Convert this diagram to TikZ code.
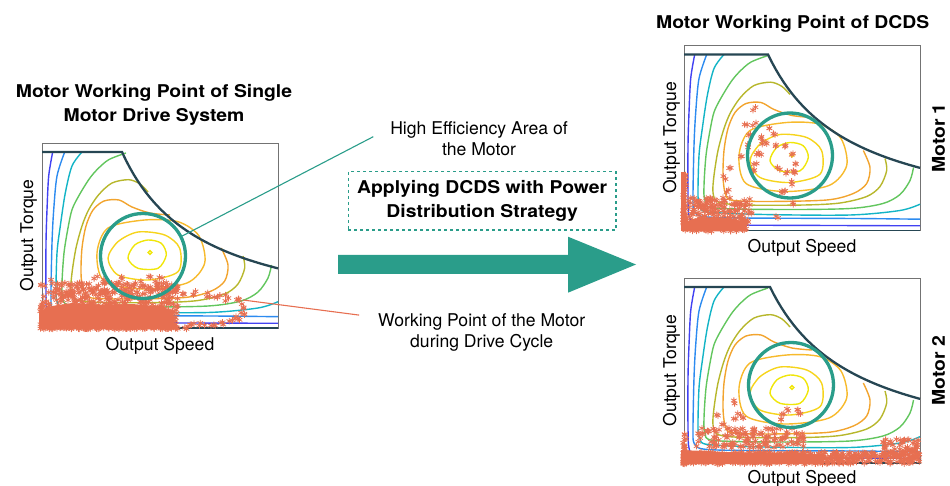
\documentclass[tikz,border=0pt]{standalone}
\usepackage{fontspec}
\setmainfont{TeX Gyre Heros}[BoldFeatures={FakeStretch=1.1}]
\usetikzlibrary{positioning,plotmarks}

\definecolor{dcteal}{HTML}{2A9D8A}
\definecolor{dcnavy}{HTML}{264653}
\definecolor{dccoral}{HTML}{E76F51}
% efficiency levels, low to high
\definecolor{ev1}{HTML}{4242F2}
\definecolor{ev2}{HTML}{2C8BF0}
\definecolor{ev3}{HTML}{13B4C6}
\definecolor{ev4}{HTML}{62C65E}
\definecolor{ev5}{HTML}{B7B72C}
\definecolor{ev6}{HTML}{F2A42E}
\definecolor{ev7}{HTML}{F7BA2C}
\definecolor{ev9}{HTML}{F6D41C}
\definecolor{ev10}{HTML}{F0E60A}

% efficiency map of the motor, #1 = base speed (corner of the torque limit)
\newcommand{\effmap}[1]{%
\draw[ctr,ev1] plot[smooth] coordinates {(10.7,9) (6.7,33) (5,67) (4,100) (4,150) (5,170) (11,178) (40,179.5) (150,180) (236,180.3)};
\draw[ctr,ev2] plot[smooth] coordinates {(22.7,9) (15,33) (11.7,67) (10,100) (9,150) (10,165) (19,171) (60,172.5) (170,173) (236,173.7)};
\draw[ctr,ev3] plot[smooth] coordinates {(40,9) (30,23) (23.3,50) (18.3,83) (15,110) (14,150) (16,161) (24,166.5) (80,169) (166,169.5) (216,165) (236,158.7)};
\draw[ctr,ev4] plot[smooth] coordinates {(84,10) (66.7,16.7) (55,26.7) (46.7,36.7) (36.7,53) (30,66.7) (26,85) (22,110) (20,140) (21,155) (30,162.5) (100,164) (166,163) (199,158) (216,149) (226,135) (229.5,122)};
\draw[ctr,ev5] plot[smooth] coordinates {(106,49) (98,41) (86.7,36.7) (70,40) (56.7,51.7) (46.7,66.7) (40,83) (34,105) (30,130) (29,147) (34,156.5) (60,159.5) (120,159.5) (156,157.5) (182.7,151) (196,141) (202.7,125) (201,113)};
\draw[ctr,ev6] plot[smooth] coordinates {(128,72) (108,70) (90,64) (77,57) (62,58) (51,67) (44,83) (40,105) (39,130) (41,147) (47,154.5) (80,156) (142.7,154.5) (169.3,148) (182.7,138) (186,122) (179.3,105)};
\draw[ctr,ev7] plot[smooth cycle] coordinates {(102.7,77) (136,78.7) (157,93) (162.7,120) (145,140) (100,146) (62,138) (55,110) (66,85)};
\draw[ctr,ev9] plot[smooth cycle] coordinates {(96,89) (122.7,92) (137.7,105.3) (136,128.7) (106,137) (76,132) (66,115.3) (76,98.7)};
\draw[ctr,ev10] plot[smooth cycle] coordinates {(106,97) (119.3,100.3) (124.3,112) (116,125.3) (96,125.3) (86,115.3) (92.7,102)};
\draw[ctr,ev10] (108,109.5) circle[radius=1.8];
\draw[tlim] (0,9) -- (#1,9) -- plot[domain=#1:236, samples=40] (\x,{185-176*#1/\x});
\draw[dcnavy, line width=1.3pt] (0,185) -- (236,185);
}

\begin{document}
\begin{tikzpicture}[
x=1pt, y=-1pt,
every node/.style={inner sep=0pt, outer sep=0pt},
panel/.style={draw=black!55, line width=0.8pt, minimum width=236pt, minimum height=185pt},
ctr/.style={line width=1.4pt},
tlim/.style={dcnavy, line width=2.3pt},
ring/.style={circle, draw=dcteal, line width=3.3pt, minimum size=85pt},
wpt/.style={dccoral, line width=0.8pt, mark size=3.2pt},
lbl/.style={font=\fontsize{17.6}{21}\selectfont, align=center},
hd/.style={font=\fontsize{17.6}{24.4}\selectfont\bfseries, align=center},
lead/.style={line width=1.1pt}]

\useasboundingbox (0,0) rectangle (950,486);
\pgfmathsetseed{2024}

% single motor drive system
\node[panel] (p1) at (160,235.5) {};
\begin{scope}[shift={(p1.north west)}]
\effmap{80}
\fill[dccoral] (-3,186) -- (-3,168) -- (10,163) -- (30,160) -- (60,162) -- (90,161) -- (115,163) -- (130,168) -- (134,186) -- cycle;
\draw[wpt] plot[only marks, mark=asterisk, samples=650, domain=0:1] ({-2+138*rnd},{186-46*rnd^1.5});
\draw[wpt] plot[only marks, mark=asterisk, samples=50, domain=0:1] ({5+125*rnd},{133+20*rnd});
\foreach \a/\b in {128/154, 140/150, 154/150, 165/152, 175/154, 185/155, 195/157, 201/163, 201/170, 196/176, 190/178, 180/179, 171/180, 160/182, 150/183, 145/184}
  \draw[wpt] plot[only marks, mark=asterisk, samples=3, domain=0:1] ({\a-3+6*rnd},{\b-3+6*rnd});
\coordinate (wp1) at (201,157);
\node[ring] (ring1) at (101,113) {};
\end{scope}

\node[hd] (t1) at (154,104.6) {Motor Working Point of Single\\Motor Drive System};
\node[lbl, rotate=90, anchor=south] (tq1) at ([xshift=-5pt]p1.west) {Output Torque};
\node[lbl, below=9pt of p1] (sp1) {Output Speed};

% DCDS, motor 1
\node[panel] (p2) at (802,138) {};
\begin{scope}[shift={(p2.north west)}]
\effmap{84}
\fill[dccoral] (-3,127) rectangle (2,186);
\draw[wpt] plot[only marks, mark=asterisk, samples=40, domain=0:1] ({-1+3*rnd},{128+58*rnd});
\fill[dccoral] (2,186) -- (2,176) -- (15,172) -- (40,172) -- (60,176) -- (64,186) -- cycle;
\draw[wpt] plot[only marks, mark=asterisk, samples=200, domain=0:1] ({4+62*rnd},{152+34*rnd});
\foreach \a/\b in {63/100.7, 76.7/107.3, 71.7/117.3, 46.7/124, 40/132.3, 80/97.3, 91.7/99, 100/100.7, 108.3/107.3, 110/117.3, 95/124, 101.7/127.3, 110/127.3, 108.3/137.3, 100/145.7, 70/125.7, 43.3/145.7, 40/155.7, 68.3/167.3, 93.3/170.7, 108.3/157.3, 70/63.3, 61.7/80, 70.7/78.3, 65/88, 86.7/81.7, 76.7/91.7, 90/88.3, 81.7/96.7, 56/111, 73/107, 99/146, 111/127}
  \draw[wpt] plot[only marks, mark=asterisk, samples=2, domain=0:1] ({\a-2+4*rnd},{\b-2+4*rnd});
\node[ring] (ring2) at (106,110) {};
\end{scope}

\node[hd] (t2) at (792.7,24) {Motor Working Point of DCDS};
\node[lbl, rotate=90, anchor=south] (tq2) at ([xshift=-4pt]p2.west) {Output Torque};
\node[lbl, below=8.4pt of p2] (sp2) {Output Speed};
\node[hd, rotate=90, anchor=north] (m1) at ([xshift=12pt]p2.east) {Motor 1};

% DCDS, motor 2
\node[panel] (p3) at (802,370.5) {};
\begin{scope}[shift={(p3.north west)}]
\effmap{86}
\fill[dccoral] (-3,186) -- (-3,172) -- (40,174) -- (100,175) -- (140,177) -- (140,186) -- cycle;
\draw[wpt] plot[only marks, mark=asterisk, samples=450, domain=0:1] ({-2+238*rnd},{186-12*rnd});
\draw[wpt] plot[only marks, mark=asterisk, samples=140, domain=0:1] ({12+108*rnd},{150+20*rnd});
\draw[wpt] plot[only marks, mark=asterisk, samples=60, domain=0:1] ({196+40*rnd},{161+16*rnd});
\draw[wpt] plot[only marks, mark=asterisk, samples=25, domain=0:1] ({-1+3*rnd},{156+30*rnd});
\foreach \a/\b in {51.7/123.7, 33.3/138.7, 51.7/142, 55/135.3, 40/145.3, 98.3/135.3, 103.3/132, 113.3/132, 116.7/137, 96.7/142, 60/140}
  \draw[wpt] plot[only marks, mark=asterisk, samples=2, domain=0:1] ({\a-2+4*rnd},{\b-2+4*rnd});
\node[ring] (ring3) at (107,107) {};
\end{scope}

\node[lbl, rotate=90, anchor=south] (tq3) at ([xshift=-4pt]p3.west) {Output Torque};
\node[lbl, below=7.6pt of p3] (sp3) {Output Speed};
\node[hd, rotate=90, anchor=north] (m2) at ([xshift=12pt]p3.east) {Motor 2};

% notes and strategy arrow
\node[lbl] (effarea) at (479,138.7) {High Efficiency Area of\\the Motor};
\node[hd, draw=dcteal, dashed, dash pattern=on 3pt off 3pt, line width=1.3pt, minimum width=267.7pt, minimum height=58.3pt] (dcds) at (482.2,200.8) {Applying DCDS with Power\\Distribution Strategy};
\fill[dcteal] (338,255) -- (568,255) -- (568,236.7) -- (636,264.5) -- (568,292.7) -- (568,274) -- (338,274) -- cycle;
\node[lbl] (wpoint) at (481.7,332.1) {Working Point of the Motor\\during Drive Cycle};

\draw[lead, dcteal] (ring1.27) -- ([xshift=-17pt, yshift=2pt]effarea.west);
\draw[lead, dccoral] (wp1) -- ([xshift=-19pt, yshift=17pt]wpoint.west);
\end{tikzpicture}
\end{document}
